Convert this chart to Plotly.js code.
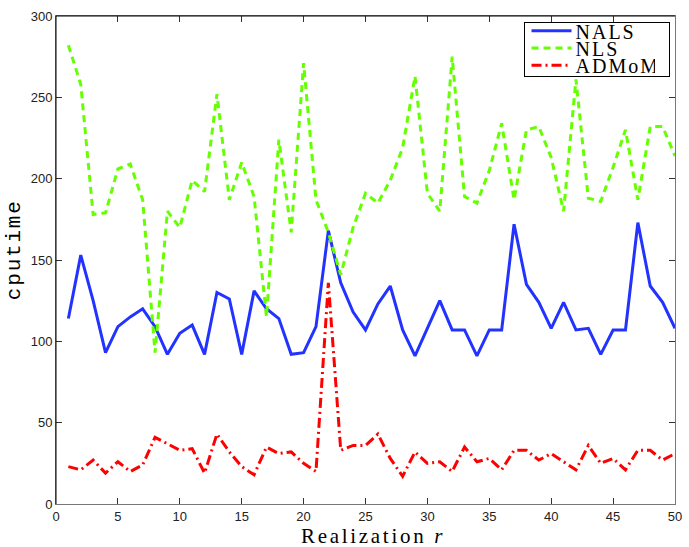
<!DOCTYPE html>
<html>
<head>
<meta charset="utf-8">
<script src="https://cdn.plot.ly/plotly-3.0.1.min.js"></script>
<style>
  html, body { margin: 0; padding: 0; background: #fff; }
  #chart { width: 689px; height: 547px; }
</style>
</head>
<body>
<div id="chart"></div>
<script>
const realization = [];
for (let i = 1; i <= 50; i++) realization.push(i);

const nals = [114, 153, 125, 93, 109, 115, 120, 109, 92, 105,
  110, 92, 130, 126, 92, 131, 120, 114, 92, 93,
  109, 168, 136, 118, 107, 123, 134, 107, 91, 108,
  125, 107, 107, 91, 107, 107, 172, 135, 124, 108,
  124, 107, 108, 92, 107, 107, 173, 134, 124, 108];

const nls = [282, 258, 178, 179, 206, 209, 187, 93, 180, 170,
  199, 192, 252, 187, 210, 189, 115, 224, 167, 271,
  187, 167, 141, 170, 191, 185, 199, 219, 263, 191,
  180, 275, 189, 185, 205, 234, 187, 230, 232, 213,
  180, 261, 188, 186, 207, 230, 187, 232, 232, 214];

const admom = [23, 21, 27, 19, 26, 20, 24, 41, 37, 33,
  34, 19, 43, 32, 23, 18, 35, 31, 32, 25,
  20, 136, 33, 36, 36, 43, 28, 17, 32, 25,
  26, 20, 35, 26, 28, 21, 33, 33, 27, 31,
  26, 21, 36, 25, 28, 21, 33, 33, 27, 31];

// names are spaced out a bit to look like the TeX font
const spaced = (s, px) => `<span style="letter-spacing:${px}px">${s}</span>`;

const traces = [
  {
    x: realization, y: nals, name: spaced("NALS", 2), type: "scatter", mode: "lines",
    line: { color: "rgb(34,51,255)", width: 3 },
  },
  {
    x: realization, y: nls, name: spaced("NLS", 2), type: "scatter", mode: "lines",
    line: { color: "rgb(102,255,0)", width: 3, dash: "7px,5px" },
  },
  {
    x: realization, y: admom, name: spaced("ADMoM", 2), type: "scatter", mode: "lines",
    line: { color: "rgb(255,0,0)", width: 3, dash: "10px,4px,2px,4px" },
  },
];

const tickFont = { family: "Liberation Sans, Arial, sans-serif", size: 13, color: "#222" };
const serif = "Liberation Serif, DejaVu Serif, serif";

const layout = {
  width: 689,
  height: 547,
  margin: { l: 56, r: 14, t: 16, b: 43 },
  paper_bgcolor: "#fff",
  plot_bgcolor: "#fff",
  showlegend: true,
  legend: {
    x: 0.99, y: 0.986, xanchor: "right", yanchor: "top",
    bgcolor: "#fff", bordercolor: "#000", borderwidth: 1,
    font: { family: serif, size: 20, color: "#000" },
    tracegroupgap: 0,
  },
  xaxis: {
    range: [0, 50],
    tickvals: [0, 5, 10, 15, 20, 25, 30, 35, 40, 45, 50],
    ticks: "inside", ticklen: 6, tickcolor: "#333",
    showline: true, linecolor: "#777", linewidth: 1, mirror: "ticks",
    showgrid: false, zeroline: false,
    tickfont: tickFont,
  },
  yaxis: {
    range: [0, 300],
    tickvals: [0, 50, 100, 150, 200, 250, 300],
    ticks: "inside", ticklen: 6, tickcolor: "#333",
    showline: true, linecolor: "#777", linewidth: 1, mirror: "ticks",
    showgrid: false, zeroline: false,
    tickfont: tickFont,
  },
  annotations: [
    {
      text: spaced("Realization <i>r</i>", 2.7),
      xref: "paper", yref: "paper", x: 0.512, y: -0.0655,
      xanchor: "center", yanchor: "middle", showarrow: false,
      font: { family: serif, size: 21, color: "#000" },
    },
    {
      text: spaced("cputime", 1.8),
      xref: "paper", yref: "paper", x: -0.068, y: 0.522,
      xanchor: "center", yanchor: "middle", showarrow: false, textangle: -90,
      font: { family: "Liberation Mono, DejaVu Sans Mono, monospace", size: 21, color: "#000" },
    },
  ],
  shapes: [
    { type: "line", xref: "paper", yref: "paper", x0: 0, x1: 0, y0: 0, y1: 1,
      line: { color: "#000", width: 1 } },
    { type: "line", xref: "paper", yref: "paper", x0: 0, x1: 1, y0: 1, y1: 1,
      line: { color: "#000", width: 1 } },
  ],
};

Plotly.newPlot("chart", traces, layout, { displayModeBar: false, staticPlot: true })
  .then(function (gd) {
    // squeeze the legend rows together like the original figure
    const leg = gd.querySelector(".legend");
    if (!leg) return;
    leg.setAttribute("transform", "translate(524,22)");
    const bg = leg.querySelector("rect.bg");
    if (bg) { bg.setAttribute("width", 145); bg.setAttribute("height", 54); }
    leg.querySelectorAll(".traces").forEach(function (t, i) {
      t.setAttribute("transform", `translate(1,${8.7 + i * 17.3})`);
    });
    leg.querySelectorAll(".legendlines path").forEach(function (p) {
      p.setAttribute("d", "M6.5,0h40");
    });
    leg.querySelectorAll("text.legendtext").forEach(function (t) {
      t.setAttribute("x", 50.5);
    });
  });
</script>
</body>
</html>
